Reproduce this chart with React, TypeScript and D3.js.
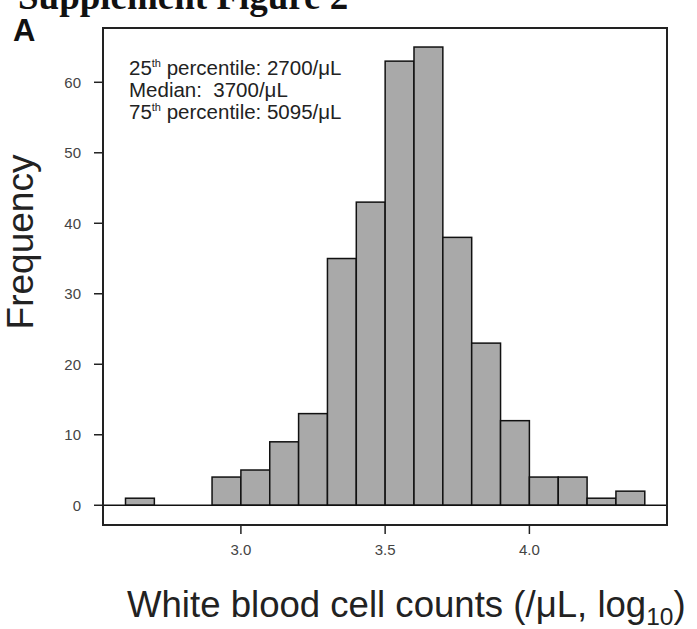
import React from "react";
import * as d3 from "d3";

const binEdges = [2.6, 2.7, 2.8, 2.9, 3.0, 3.1, 3.2, 3.3, 3.4, 3.5, 3.6, 3.7, 3.8, 3.9, 4.0, 4.1, 4.2, 4.3, 4.4];
const counts = [1, 0, 0, 4, 5, 9, 13, 35, 43, 63, 65, 38, 23, 12, 4, 4, 1, 2];
const xTicks = [3.0, 3.5, 4.0];
const xTickLabels = ["3.0", "3.5", "4.0"];
const yTicks = [0, 10, 20, 30, 40, 50, 60];
const yTickLabels = ["0", "10", "20", "30", "40", "50", "60"];
const statLabels = ["25", "Median:  3700/μL", "75"];

const W = 697;
const H = 629;
const left = 103;
const right = 667;
const top = 28;
const bottom = 525;

export default function App() {
  const x = d3.scaleLinear().domain([2.522, 4.477]).range([left, right]);
  const y = d3.scaleLinear().domain([-2.8, 67.7]).range([bottom, top]);
  const sans = "'Liberation Sans', Arial, sans-serif";
  const bins = counts.map((c, i) => ({ x0: binEdges[i], x1: binEdges[i + 1], c }));

  return (
    <svg width={W} height={H} style={{ position: "absolute", left: 0, top: 0, background: "#fff" }}>
      <rect x={0} y={0} width={W} height={H} fill="#fff" />
      {/* cut-off heading */}
      <text x={18} y={9} fontFamily="'Liberation Serif', 'Times New Roman', serif" fontWeight="bold" fontSize={37} fill="#111">
        Supplement Figure 2
      </text>
      <text x={13} y={41} fontFamily={sans} fontWeight="bold" fontSize={31} fill="#111">A</text>

      {/* bars */}
      {bins.filter(b => b.c > 0).map((b, i) => (
        <rect key={i} x={x(b.x0)} y={y(b.c)} width={x(b.x1) - x(b.x0)} height={y(0) - y(b.c)}
          fill="#a9a9a9" stroke="#111" strokeWidth={1.5} />
      ))}

      {/* zero line */}
      <line x1={left} x2={right} y1={y(0)} y2={y(0)} stroke="#111" strokeWidth={1.5} />

      {/* box */}
      <rect x={left} y={top} width={right - left} height={bottom - top} fill="none" stroke="#222" strokeWidth={2} />

      {/* y axis ticks */}
      {yTicks.map((t, i) => (
        <g key={t}>
          <line x1={left - 9} x2={left} y1={y(t)} y2={y(t)} stroke="#222" strokeWidth={1.5} />
          <text x={81} y={y(t)} dy="0.36em" textAnchor="end" fontFamily={sans} fontSize={15} fill="#444">
            {yTickLabels[i]}
          </text>
        </g>
      ))}

      {/* x axis ticks */}
      {xTicks.map((t, i) => (
        <g key={t}>
          <line x1={x(t)} x2={x(t)} y1={bottom} y2={bottom + 9} stroke="#222" strokeWidth={1.5} />
          <text x={x(t)} y={555} textAnchor="middle" fontFamily={sans} fontSize={15} fill="#444">
            {xTickLabels[i]}
          </text>
        </g>
      ))}

      {/* annotation */}
      <g fontFamily={sans} fontSize={20.5} fill="#222">
        <text x={129} y={75}>
          {statLabels[0]}
          <tspan fontSize={11} dy={-8}>th</tspan>
          <tspan dy={8}> percentile: 2700/μL</tspan>
        </text>
        <text x={129} y={97} xmlSpace="preserve">{statLabels[1]}</text>
        <text x={129} y={119}>
          {statLabels[2]}
          <tspan fontSize={11} dy={-8}>th</tspan>
          <tspan dy={8}> percentile: 5095/μL</tspan>
        </text>
      </g>

      {/* axis titles */}
      <text transform={`translate(33,${242}) rotate(-90)`} textAnchor="middle"
        fontFamily={sans} fontSize={37} fill="#222">Frequency</text>
      <text x={127} y={617} fontFamily={sans} fontSize={36.6} fill="#222">
        White blood cell counts (/μL, log
        <tspan fontSize={24.5} dy={8}>10</tspan>
        <tspan dy={-8}>)</tspan>
      </text>
    </svg>
  );
}
